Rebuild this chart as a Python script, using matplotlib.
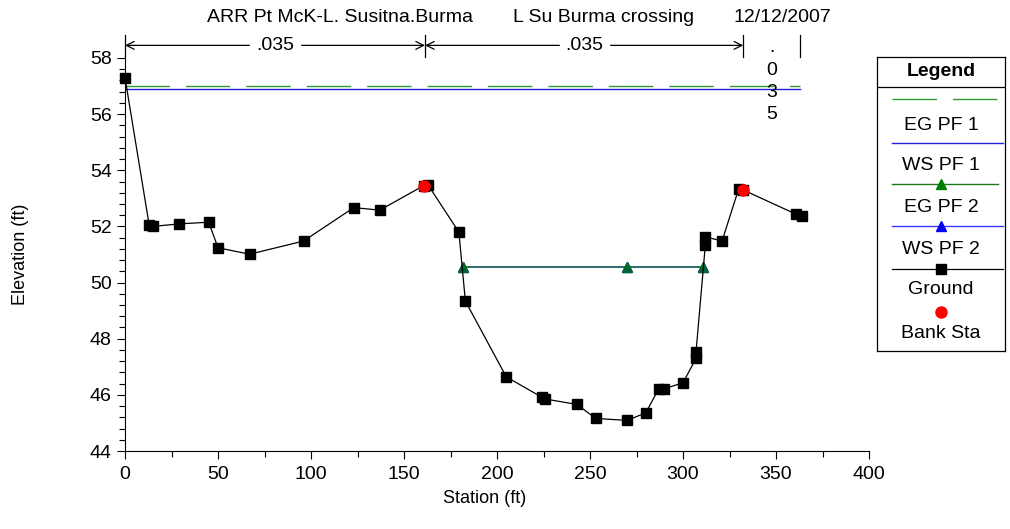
import matplotlib
matplotlib.use("Agg")
import matplotlib.pyplot as plt
from matplotlib.ticker import MultipleLocator

plt.rcParams['font.family'] = ['Liberation Sans', 'DejaVu Sans']

# ground profile (station ft, elevation ft)
station = [0, 13, 15, 29, 45, 50, 67, 96, 123, 137, 160.5, 163, 179.5, 183, 205,
           224, 226, 243, 253, 270, 280, 287, 290, 300, 307, 307, 312, 312, 321,
           330, 332, 361, 364]
elevation = [57.3, 52.05, 52.0, 52.09, 52.15, 51.24, 51.01, 51.48, 52.67, 52.58,
             53.45, 53.47, 51.80, 49.34, 46.64, 45.92, 45.85, 45.66, 45.16, 45.09,
             45.36, 46.22, 46.22, 46.43, 47.30, 47.53, 51.33, 51.63, 51.48, 53.35,
             53.31, 52.43, 52.37]

bank_sta = [160.5, 332]
bank_elev = [53.45, 53.31]

# profile 1 (EG / WS) across whole section
pf1_sta = [0, 363]
eg_pf1 = [57.02, 57.02]
ws_pf1 = [56.88, 56.88]

# profile 2 water surface in channel
pf2_sta = [181.5, 270, 310.8]
eg_pf2 = [50.56, 50.56, 50.56]
ws_pf2 = [50.56, 50.56, 50.56]

# manning n break stations and values
n_breaks = [0, 161.3, 332.4, 362.8]
n_values = [".035", ".035", ".035"]

fig = plt.figure(figsize=(10.1, 5.29), dpi=100)
ax = fig.add_axes([125/1010, 78/529, 744/1010, 393/529])

ax.plot(pf1_sta, eg_pf1, color='#2e9b2e', lw=1, dashes=(32, 11.5))
ax.plot(pf1_sta, ws_pf1, color='#1f1fe0', lw=1)
ax.plot(pf2_sta, ws_pf2, color='#3a3aff', lw=1.2, marker='^', ms=7,
        mfc='blue', mec='blue')
ax.plot(pf2_sta, eg_pf2, color='#1a7a1a', lw=1.2, alpha=0.75, marker='^', ms=7,
        mfc='green', mec='green')
ax.plot(station, elevation, color='black', lw=0.9, marker='s', ms=7.5,
        clip_on=False)
ax.plot(bank_sta, bank_elev, 'o', color='red', ms=8, ls='none')

ax.set_xlim(0, 400)
ax.set_ylim(44, 58)
ax.xaxis.set_major_locator(MultipleLocator(50))
ax.xaxis.set_minor_locator(MultipleLocator(25))
ax.yaxis.set_major_locator(MultipleLocator(2))
ax.yaxis.set_minor_locator(MultipleLocator(0.4))
ax.tick_params(which='both', direction='out', labelsize=14, width=0.8)
ax.tick_params(which='major', length=6)
ax.tick_params(which='minor', length=4)
ax.tick_params(axis='x', pad=5)
ax.spines['top'].set_visible(False)
ax.spines['right'].set_visible(False)
ax.set_xlabel("Station (ft)", fontsize=13)
ax.xaxis.set_label_coords(0.484, -0.098)
ax.set_ylabel("Elevation (ft)", fontsize=13, labelpad=44)

# manning n annotations above plot
y_arrow = 58.45
for i in range(2):
    x0, x1 = n_breaks[i], n_breaks[i + 1]
    ax.annotate("", xy=(x0, y_arrow), xytext=(x1, y_arrow),
                arrowprops=dict(arrowstyle='<->', lw=0.9, color='black',
                                shrinkA=0, shrinkB=0, mutation_scale=14),
                annotation_clip=False)
    ax.text((x0 + x1) / 2, y_arrow, n_values[i], ha='center', va='center',
            fontsize=14, backgroundcolor='white', clip_on=False)
for xb in n_breaks:
    ax.plot([xb, xb], [58.02, 58.82], color='black', lw=0.9, clip_on=False)
xm = (n_breaks[2] + n_breaks[3]) / 2
for k, ch in enumerate(n_values[2]):
    ax.text(xm, 58.37 - k * 0.8, ch, ha='center', va='center', fontsize=14,
            clip_on=False)

# title pieces
fig.text(340/1010, 1 - 17/529, "ARR Pt McK-L. Susitna.Burma", ha='center',
         va='center', fontsize=14)
fig.text(604/1010, 1 - 17/529, "L Su Burma crossing", ha='center',
         va='center', fontsize=14)
fig.text(782/1010, 1 - 17/529, "12/12/2007", ha='center', va='center',
         fontsize=14)

# legend box
lg = fig.add_axes([877/1010, 178/529, 128/1010, 294/529])
lg.set_xlim(877, 1005)
lg.set_ylim(351, 57)
lg.set_xticks([])
lg.set_yticks([])
for s in lg.spines.values():
    s.set_linewidth(0.9)
cx = 941
lg.text(cx, 72, "Legend", ha='center', va='center', fontsize=14,
        fontweight='bold')
lg.plot([877, 1005], [87, 87], color='black', lw=0.9)
lg.plot([892, 998], [99, 99], color='#2e9b2e', lw=1, dashes=(32, 11.5))
lg.text(cx, 125, "EG PF 1", ha='center', va='center', fontsize=14)
lg.plot([892, 1003], [143, 143], color='#1f1fe0', lw=1)
lg.text(cx, 166, "WS PF 1", ha='center', va='center', fontsize=14)
lg.plot([892, 998], [184, 184], color='#1a7a1a', lw=1)
lg.plot([cx], [184], '^', color='green', ms=7)
lg.text(cx, 207, "EG PF 2", ha='center', va='center', fontsize=14)
lg.plot([892, 1003], [226, 226], color='#3a3aff', lw=1)
lg.plot([cx], [226], '^', color='blue', ms=7)
lg.text(cx, 249, "WS PF 2", ha='center', va='center', fontsize=14)
lg.plot([892, 1003], [269, 269], color='black', lw=0.9)
lg.plot([cx], [269], 's', color='black', ms=7)
lg.text(cx, 290, "Ground", ha='center', va='center', fontsize=14)
lg.plot([cx], [312], 'o', color='red', ms=8)
lg.text(cx, 333, "Bank Sta", ha='center', va='center', fontsize=14)

fig.savefig("out.png", dpi=100)
